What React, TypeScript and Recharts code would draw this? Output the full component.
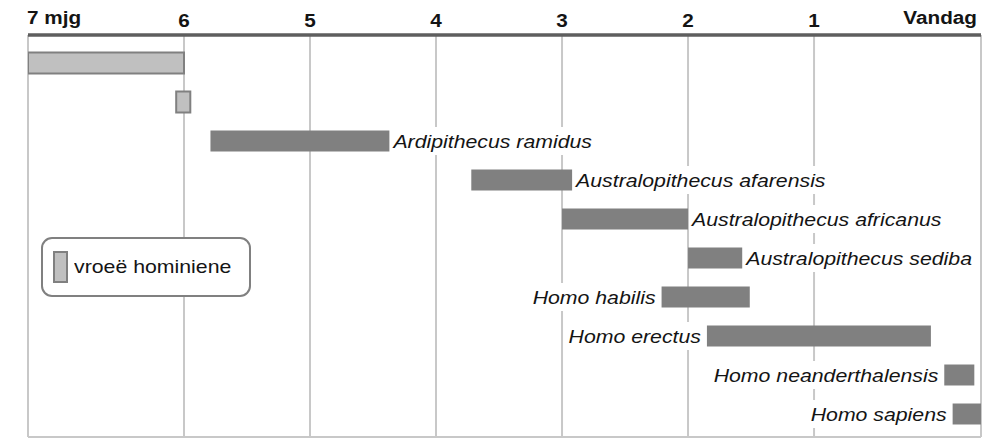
import React from "react";
import {
  BarChart,
  Bar,
  XAxis,
  YAxis,
  CartesianGrid,
  Cell,
  LabelList,
  Legend,
} from "recharts";

/* ------------------------------------------------------------------ */
/*  DATA (millions of years ago)                                       */
/* ------------------------------------------------------------------ */

const TAXA = [
  "",
  "",
  "Ardipithecus ramidus",
  "Australopithecus afarensis",
  "Australopithecus africanus",
  "Australopithecus sediba",
  "Homo habilis",
  "Homo erectus",
  "Homo neanderthalensis",
  "Homo sapiens",
];
const FROM_MYA = [7, 6.05, 5.79, 3.72, 3.0, 2.0, 2.21, 1.85, 0.22, 0.17];
const TO_MYA = [6, 5.95, 4.37, 2.92, 2.0, 1.57, 1.51, 0.3, 0.04, 0];
const EARLY = [true, true, false, false, false, false, false, false, false, false];
const LABEL_SIDE = ["", "", "right", "right", "right", "right", "left", "left", "left", "left"];

const TICK_MYA = [7, 6, 5, 4, 3, 2, 1, 0];
const TICK_LABELS = ["7 mjg", "6", "5", "4", "3", "2", "1", "Vandag"];

const LEGEND_LABEL = "vroeë hominiene";

/* ------------------------------------------------------------------ */
/*  AXIS: the 7-6 and 1-0 stretches are drawn wider than the others    */
/* ------------------------------------------------------------------ */

const LEFT_STRETCH = 1.238;
const RIGHT_STRETCH = 1.325;

function toAxis(mya: number) {
  if (mya >= 6) return -6 - (mya - 6) * LEFT_STRETCH;
  if (mya <= 1) return -1 + (1 - mya) * RIGHT_STRETCH;
  return -mya;
}

const chartData = TAXA.map((name, i) => ({
  id: `r${i}`,
  label: name,
  range: [toAxis(FROM_MYA[i]), toAxis(TO_MYA[i])],
}));

const FONT = '"Liberation Sans", Arial, Helvetica, sans-serif';
const STRETCH_X = 1.12;
const TEXT = "#141414";
const DARK = "#808080";
const LIGHT = "#c0c0c0";
const GRID = "#c8c8c8";

let measureCtx: CanvasRenderingContext2D | null = null;
function textWidth(s: string, font: string) {
  if (!measureCtx) measureCtx = document.createElement("canvas").getContext("2d");
  if (!measureCtx) return s.length * 10;
  measureCtx.font = font;
  return measureCtx.measureText(s).width;
}

// eslint-disable-next-line @typescript-eslint/no-explicit-any
function AxisTick(props: any) {
  const { x, payload } = props;
  const i = payload.index as number;
  const first = i === 0;
  const last = i === TICK_LABELS.length - 1;
  const anchor = first ? "start" : last ? "end" : "middle";
  const tx = first ? x - 1 : last ? x - 4 : x;
  const ty = first || last ? 24 : 27;
  return (
    <g transform={`translate(${tx},${ty}) scale(${STRETCH_X},1)`}>
      <text
        x={0}
        y={0}
        textAnchor={anchor}
        fontFamily={FONT}
        fontWeight={700}
        fontSize={18.5}
        fill={TEXT}
      >
        {TICK_LABELS[i]}
      </text>
    </g>
  );
}

// eslint-disable-next-line @typescript-eslint/no-explicit-any
function SpeciesLabel(props: any) {
  const { x, y, width, height, index, value } = props;
  const side = LABEL_SIDE[index];
  if (!value || !side) return null;
  const font = `italic 19px ${FONT}`;
  const w = textWidth(String(value), font) * STRETCH_X;
  const cy = y + height / 2;
  const right = side === "right";
  const tx = right ? x + width + 4 : x - 6;
  const left = right ? tx : tx - w;
  return (
    <g>
      <rect x={left - 2} y={cy - 14} width={w + 4} height={28} fill="#ffffff" />
      <g transform={`translate(${tx},${cy + 6.5}) scale(${STRETCH_X},1)`}>
        <text
          x={0}
          y={0}
          textAnchor={right ? "start" : "end"}
          fontFamily={FONT}
          fontStyle="italic"
          fontSize={19}
          fill={TEXT}
        >
          {value}
        </text>
      </g>
    </g>
  );
}

function LegendBox() {
  return (
    <div
      style={{
        position: "relative",
        width: 210,
        height: 60,
        boxSizing: "border-box",
        border: `2.5px solid ${DARK}`,
        borderRadius: 11,
        background: "#ffffff",
      }}
    >
      <div
        style={{
          position: "absolute",
          left: 9.5,
          top: 11.5,
          width: 15,
          height: 32,
          boxSizing: "border-box",
          border: `2px solid ${DARK}`,
          background: LIGHT,
        }}
      />
      <span
        style={{
          position: "absolute",
          left: 30.5,
          top: 18.4,
          fontFamily: FONT,
          fontSize: 19,
          lineHeight: "19px",
          color: TEXT,
          whiteSpace: "nowrap",
          transform: `scaleX(${STRETCH_X})`,
          transformOrigin: "left center",
        }}
      >
        {LEGEND_LABEL}
      </span>
    </div>
  );
}

export default function App() {
  const domain = [toAxis(TICK_MYA[0]), toAxis(TICK_MYA[TICK_MYA.length - 1])];
  return (
    <div style={{ position: "absolute", left: 0, top: 0, background: "#fff" }}>
      <BarChart
        width={994}
        height={438}
        data={chartData}
        layout="vertical"
        margin={{ top: 5, right: 13, left: 28, bottom: 1 }}
        barSize={21}
      >
        <CartesianGrid
          vertical
          horizontal
          stroke={GRID}
          strokeWidth={2}
          // only the bottom border of the plot, no row lines
          // eslint-disable-next-line @typescript-eslint/no-explicit-any
          horizontalCoordinatesGenerator={({ offset }: any) => [offset.top + offset.height]}
        />
        <XAxis
          type="number"
          orientation="top"
          domain={domain}
          ticks={TICK_MYA.map(toAxis)}
          interval={0}
          allowDataOverflow
          height={30}
          tickLine={false}
          axisLine={{ stroke: "#5e5e5e", strokeWidth: 3.5 }}
          tick={<AxisTick />}
        />
        <YAxis type="category" dataKey="id" hide width={0} padding={{ top: 8.5, bottom: 3.5 }} />
        <Legend
          layout="horizontal"
          verticalAlign="middle"
          align="center"
          content={<LegendBox />}
          wrapperStyle={{ left: 41, top: 237, width: 210, height: 60 }}
        />
        <Bar dataKey="range" isAnimationActive={false}>
          {chartData.map((d, i) => (
            <Cell
              key={d.id}
              fill={EARLY[i] ? LIGHT : DARK}
              stroke={EARLY[i] ? DARK : "none"}
              strokeWidth={EARLY[i] ? 2 : 0}
            />
          ))}
          <LabelList dataKey="label" content={<SpeciesLabel />} />
        </Bar>
      </BarChart>
    </div>
  );
}
